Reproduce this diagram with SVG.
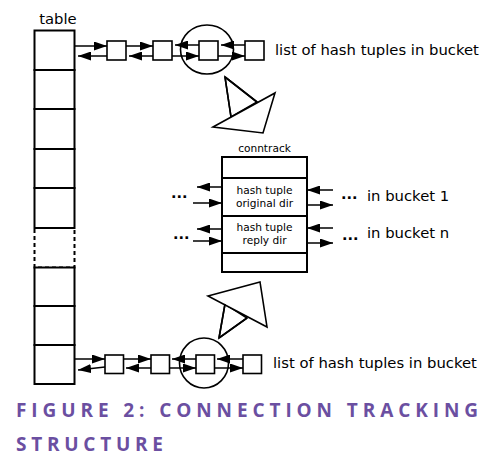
<svg xmlns="http://www.w3.org/2000/svg" width="499" height="470" viewBox="0 0 499 470">
<style>
.ln{stroke:#000;stroke-width:2;fill:#fff}
.sq{stroke:#000;stroke-width:1.6;fill:#fff}
.ar{stroke:#000;stroke-width:1.5;fill:none;marker-end:url(#ah)}
.dash{stroke:#000;stroke-width:2;fill:none;stroke-dasharray:4,3}
.t{font-family:"DejaVu Sans",sans-serif;fill:#000}
.lbl{font-size:14.8px}
.sm{font-size:10.6px;text-anchor:middle}
.dots{font-family:"DejaVu Sans",sans-serif;font-weight:bold;font-size:14.5px}
.cap{font-family:"Open Sans",sans-serif;font-weight:bold;font-size:19px;fill:#6b4fa1}
.wedge{stroke:#000;stroke-width:1.6;fill:#fff;stroke-linejoin:miter}
</style>
<defs>
<marker id="ah" markerUnits="userSpaceOnUse" markerWidth="13" markerHeight="9" refX="13" refY="4.5" orient="auto">
<path d="M0,0 L13,4.5 L0,9 z" fill="#000"/>
</marker>
</defs>

<g id="table">
<text class="t lbl" x="58" y="24" text-anchor="middle">table</text>
<rect class="ln" x="34.5" y="30.5" width="40" height="39.5"/>
<rect class="ln" x="34.5" y="70" width="40" height="39"/>
<rect class="ln" x="34.5" y="109" width="40" height="40"/>
<rect class="ln" x="34.5" y="149" width="40" height="39"/>
<rect class="ln" x="34.5" y="188" width="40" height="40"/>
<path class="dash" d="M34.5,229 V267.5 H74.5 V229"/>
<rect class="ln" x="34.5" y="267.5" width="40" height="38.5"/>
<rect class="ln" x="34.5" y="306" width="40" height="39"/>
<rect class="ln" x="34.5" y="345" width="40" height="39"/>
</g>

<g id="top-list">
<ellipse cx="207" cy="49.5" rx="26.5" ry="24.5" fill="none" stroke="#000" stroke-width="1.6"/>
<rect id="t1" class="sq" x="107" y="41" width="19" height="19"/>
<rect id="t2" class="sq" x="153" y="41" width="19" height="19"/>
<rect id="t3" class="sq" x="199" y="41" width="19" height="19"/>
<rect id="t4" class="sq" x="245" y="41" width="19" height="19"/>
<text class="t lbl" x="275" y="55">list of hash tuples in bucket</text>
</g>

<g id="bottom-list">
<ellipse cx="204" cy="363" rx="24.5" ry="25" fill="none" stroke="#000" stroke-width="1.6"/>
<rect id="b1" class="sq" x="105" y="355" width="18.5" height="18.5"/>
<rect id="b2" class="sq" x="151" y="355" width="18.5" height="18.5"/>
<rect id="b3" class="sq" x="196" y="355" width="18.5" height="18.5"/>
<rect id="b4" class="sq" x="243" y="355" width="18.5" height="18.5"/>
<text class="t lbl" x="273" y="368">list of hash tuples in bucket</text>
</g>

<g id="pointer-top">
<polygon class="wedge" points="225,77 257,102 231,117"/>
<polygon class="wedge" points="213,127 275,93 263,133"/>
<path d="M225,77 L257,102 M225,77 L231,117" stroke="#000" stroke-width="1.6" fill="none"/>
</g>

<g id="pointer-bottom">
<polygon class="wedge" points="225,304 247,318 219,338"/>
<polygon class="wedge" points="208,296 260,282 267,327"/>
<path d="M219,338 L225,304 M219,338 L247,318" stroke="#000" stroke-width="1.6" fill="none"/>
</g>

<g id="conntrack">
<text class="t sm" x="264.5" y="152">conntrack</text>
<rect class="ln" x="222" y="157" width="85" height="115"/>
<line x1="222" y1="178" x2="307" y2="178" stroke="#000" stroke-width="2"/>
<line x1="222" y1="216" x2="307" y2="216" stroke="#000" stroke-width="2"/>
<line x1="222" y1="253" x2="307" y2="253" stroke="#000" stroke-width="2"/>
<text class="t sm" x="264.5" y="194">hash tuple</text>
<text class="t sm" x="264.5" y="206.5">original dir</text>
<text class="t sm" x="264.5" y="231">hash tuple</text>
<text class="t sm" x="264.5" y="243.5">reply dir</text>
<text class="dots" x="171" y="198">...</text>
<text class="dots" x="173" y="239">...</text>
<text class="dots" x="341" y="199">...</text>
<text class="dots" x="342" y="240">...</text>
<text class="t lbl" x="367" y="201">in bucket 1</text>
<text class="t lbl" x="367" y="238">in bucket n</text>
</g>

<g id="connectors">
<line class="ar" x1="75" y1="46" x2="107" y2="46"/>
<line class="ar" x1="107" y1="56" x2="78" y2="56"/>
<line class="ar" x1="126" y1="46" x2="153" y2="46"/>
<line class="ar" x1="153" y1="56" x2="129" y2="56"/>
<line class="ar" x1="199" y1="45" x2="175" y2="45"/>
<line class="ar" x1="172" y1="56" x2="199" y2="56"/>
<line class="ar" x1="245" y1="45" x2="221" y2="45"/>
<line class="ar" x1="218" y1="56" x2="245" y2="56"/>

<line class="ar" x1="75" y1="359" x2="105" y2="359"/>
<line class="ar" x1="105" y1="367" x2="78" y2="370"/>
<line class="ar" x1="123.5" y1="359" x2="151" y2="359"/>
<line class="ar" x1="151" y1="368" x2="126" y2="368"/>
<line class="ar" x1="196" y1="359" x2="172" y2="359"/>
<line class="ar" x1="169.5" y1="368" x2="196" y2="368"/>
<line class="ar" x1="243" y1="359" x2="217" y2="359"/>
<line class="ar" x1="214.5" y1="368" x2="243" y2="368"/>

<line class="ar" x1="222" y1="187" x2="197" y2="187"/>
<line class="ar" x1="193" y1="203" x2="222" y2="203"/>
<line class="ar" x1="222" y1="229" x2="197" y2="229"/>
<line class="ar" x1="193" y1="241" x2="222" y2="241"/>
<line class="ar" x1="333" y1="190" x2="307" y2="190"/>
<line class="ar" x1="307" y1="205" x2="333" y2="205"/>
<line class="ar" x1="333" y1="228" x2="307" y2="228"/>
<line class="ar" x1="307" y1="243" x2="333" y2="243"/>
</g>

<g id="caption">
<text class="cap" x="16" y="417" textLength="462" lengthAdjust="spacing">FIGURE 2: CONNECTION TRACKING</text>
<text class="cap" x="16" y="451" textLength="147" lengthAdjust="spacing">STRUCTURE</text>
</g>
</svg>
